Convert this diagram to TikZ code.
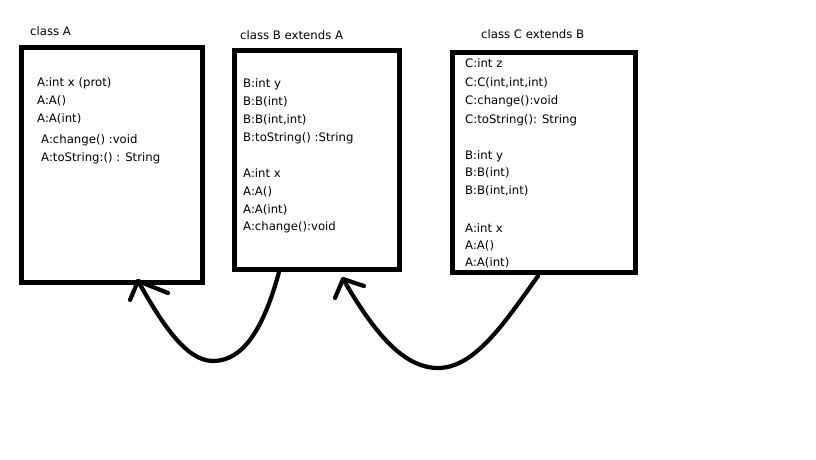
\documentclass[tikz,border=0pt]{standalone}
\usepackage{fontspec}
\setmainfont{DejaVu Sans}
\begin{document}
\begin{tikzpicture}[x=1pt,y=-1pt,
  classbox/.style={draw=black,line width=5pt,inner sep=0pt,fill=none},
  lbl/.style={anchor=base west,inner sep=0pt,font=\fontsize{11.7}{14}\selectfont},
  conn/.style={line width=4.2pt,line cap=round,line join=round}]
\useasboundingbox[fill=white] (0,0) rectangle (816,460);
% boxes
\node[classbox,minimum width=181pt,minimum height=235pt] (boxA) at (112,165) {};
\node[classbox,minimum width=165pt,minimum height=218.5pt] (boxB) at (316.5,159.75) {};
\node[classbox,minimum width=183pt,minimum height=220pt] (boxC) at (544,162.5) {};
% titles
\node[lbl] (tA) at (30,35.5) {class A};
\node[lbl] (tB) at (240,39.5) {class B extends A};
\node[lbl] (tC) at (481,38.5) {class C extends B};
% box A text
\foreach \t/\x/\y [count=\i] in {A:int x (prot)/37/82, A:A()/37/100, A:A(int)/37/118, A:change() :void/41/139, A:toString:() : String/41/157}
  \node[lbl] (a\i) at (\x,\y+4.5) {\t};
% box B text
\foreach \t/\y [count=\i] in {B:int y/83, B:B(int)/101, {B:B(int,int)}/119, B:toString() :String/137, A:int x/173, A:A()/191, A:A(int)/209, A:change():void/226}
  \node[lbl] (b\i) at (243,\y+4.5) {\t};
% box C text
\foreach \t/\y [count=\i] in {C:int z/63, {C:C(int,int,int)}/82, C:change():void/100, C:toString(): String/119, B:int y/155, B:B(int)/172, {B:B(int,int)}/190, A:int x/227.5, A:A()/244.5, A:A(int)/261.5}
  \node[lbl] (c\i) at (465,\y+4.5) {\t};
% connectors
\coordinate (s1) at (279,272);
\coordinate (t1) at (138,281);
\coordinate (p1) at (130,300);
\coordinate (q1) at (168,293);
\coordinate (s2) at (538,276);
\coordinate (t2) at (343,279);
\coordinate (p2) at (335,298);
\coordinate (q2) at (364,286);
\draw[conn] (s1) .. controls (262,335) and (240,361) .. (213,361)
  .. controls (185,361) and (160,320) .. (t1);
\draw[conn] (p1) -- (t1) -- (q1);
\draw[conn] (s2) .. controls (505,322) and (475,368) .. (438,368)
  .. controls (400,368) and (370,325) .. (t2);
\draw[conn] (p2) -- (t2) -- (q2);
\end{tikzpicture}
\end{document}
